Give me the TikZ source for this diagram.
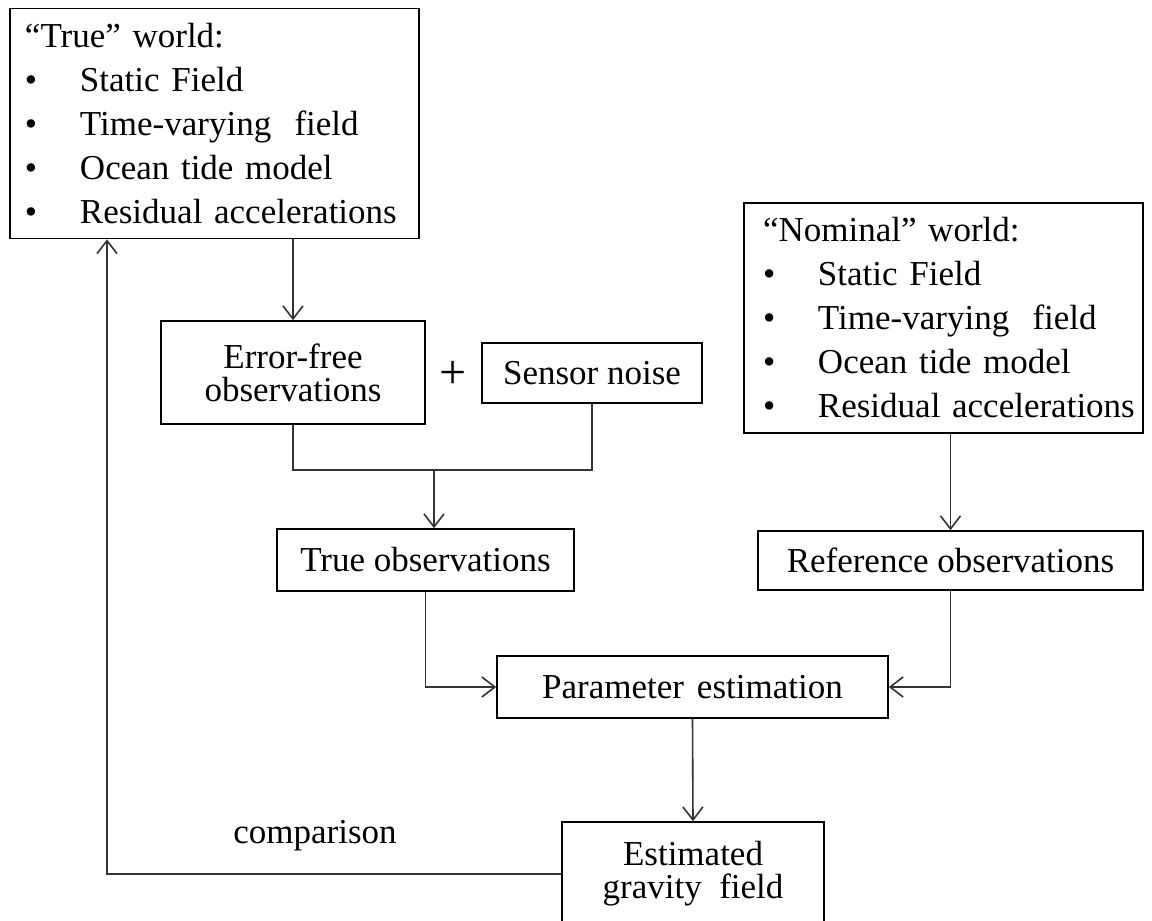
\documentclass[tikz,border=0pt]{standalone}
\usepackage{fontspec}
\setmainfont{Liberation Serif}
\usetikzlibrary{arrows.meta, positioning, calc}
\definecolor{linegray}{HTML}{333333}
% one bullet line of a world box
\newcommand{\wlitem}[1]{\makebox[27.5pt][l]{\textbullet}\mbox{#1}}

\begin{document}
\begin{tikzpicture}[x=0.5pt, y=-0.5pt,
    box/.style={draw, line width=0.8pt, inner sep=0pt, align=center,
      font=\fontsize{17.5}{16.5}\selectfont},
    worldbox/.style={draw, line width=0.8pt, inner ysep=0pt, align=left,
      font=\fontsize{17.5}{22}\selectfont, minimum height=115pt},
    link/.style={draw=linegray, line width=0.8pt},
    arr/.style={link, -{Straight Barb[length=6.5pt, width=10pt]}}]
  \useasboundingbox (0,0) rectangle (1152,921);
  % the two worlds
  \node[worldbox, inner xsep=7.5pt, text width=189.5pt] (truew) at (214.5,123.5)
    {\mbox{“True” world:}\\ \wlitem{Static Field}\\ \wlitem{Time-varying~ field}\\
     \wlitem{Ocean tide model}\\ \wlitem{Residual accelerations}};
  \node[worldbox, inner xsep=9.5pt, text width=180.5pt] (nomw) at (943.5,318)
    {\mbox{“Nominal” world:}\\ \wlitem{Static Field}\\ \wlitem{Time-varying~ field}\\
     \wlitem{Ocean tide model}\\ \wlitem{Residual accelerations}};
  % observations and estimation
  \node[box, minimum width=132pt, minimum height=51.5pt] (errfree) at (293,372.5) {Error-free\\observations};
  \node[font=\fontsize{24}{24}\selectfont, inner sep=0pt] (plus) at (453,375) {+};
  \node[box, minimum width=110pt, minimum height=30pt] (noise) at (592,373) {Sensor noise};
  \node[box, minimum width=148.5pt, minimum height=31pt] (trueobs) at (425.5,560) {True observations};
  \node[box, minimum width=192.5pt, minimum height=29.5pt] (refobs) at (950.5,560.5) {Reference observations};
  \node[box, minimum width=195.5pt, minimum height=31pt] (param) at (692.5,687) {Parameter\hspace{0.12em} estimation};
  \node[box, minimum width=131pt, minimum height=52pt] (est) at (693,874) {Estimated\\gravity~ field};
  \node[font=\fontsize{17.5}{17.5}\selectfont, inner sep=0pt] (cmp) at (315,836) {comparison};
  % connectors
  \coordinate (join) at (434,470);
  \coordinate (cmpx) at (107,0);
  \draw[arr] (errfree |- truew.south) -- (errfree.north);
  \draw[link] (errfree.south) |- (join) -| (noise.south);
  \draw[arr] (join) -- (join |- trueobs.north);
  \draw[arr] (refobs.north |- nomw.south) -- (refobs.north);
  \draw[arr] (trueobs.south) |- (param.west);
  \draw[arr] (refobs.south) |- (param.east);
  \draw[arr] (param.south) -- (est.north);
  \draw[arr] (est.west) -| (cmpx |- truew.south);
\end{tikzpicture}
\end{document}
